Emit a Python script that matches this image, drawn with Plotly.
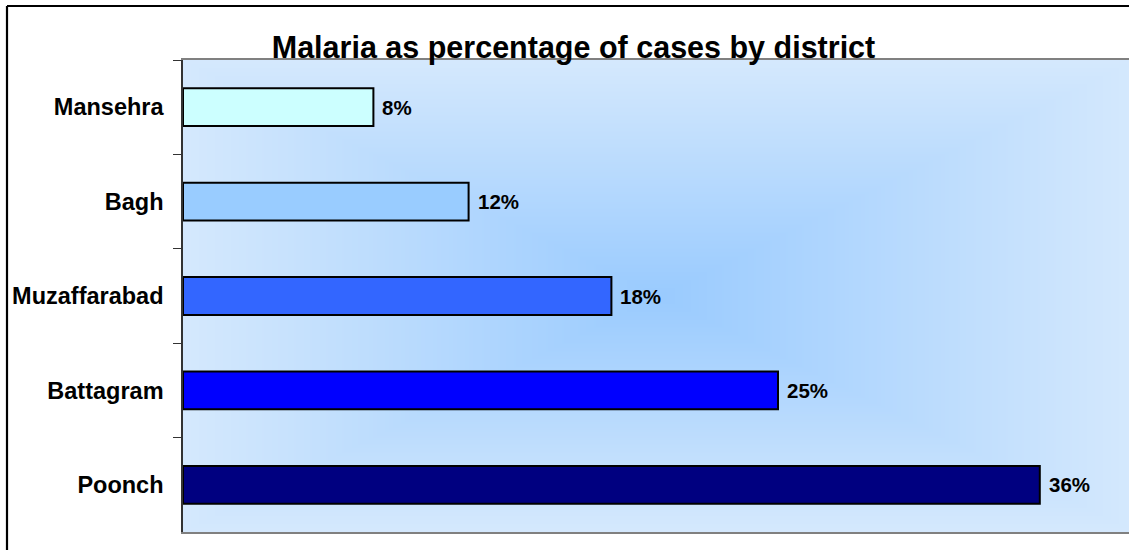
import base64
import struct
import zlib

import numpy as np
import plotly.graph_objects as go

# ---- data (top to bottom as shown) ----
districts = ["Mansehra", "Bagh", "Muzaffarabad", "Battagram", "Poonch"]
malaria_share = [0.08, 0.12, 0.18, 0.25, 0.36]
bar_colors = ["#CCFFFF", "#99CCFF", "#3366FF", "#0000FF", "#000080"]
title_text = "Malaria as percentage of cases by district"

# ---- geometry (pixels) ----
# the chart is wider than the 1129 px window; its right edge is cut off
W, H = 1160, 550
PL, PT, PB = 183, 60, 532
PR = 1160
pw, ph = PR - PL, PB - PT
GRAD_R = 1135  # right edge of the original (cropped) plot area, for the gradient


def px_x(px):
    return (px - PL) / pw


def px_y(py):
    return (PB - py) / ph


# ---- rectangular "from centre" gradient background as PNG ----
def make_png(arr):
    h, w, _ = arr.shape
    raw = b"".join(b"\x00" + arr[i].tobytes() for i in range(h))

    def chunk(t, d):
        return struct.pack(">I", len(d)) + t + d + struct.pack(">I", zlib.crc32(t + d) & 0xFFFFFFFF)

    return (b"\x89PNG\r\n\x1a\n"
            + chunk(b"IHDR", struct.pack(">IIBBBBB", w, h, 8, 2, 0, 0, 0))
            + chunk(b"IDAT", zlib.compress(raw, 9))
            + chunk(b"IEND", b""))


gw = GRAD_R - PL
gx = np.minimum(np.abs((np.arange(pw) + 0.5 - gw / 2) / (gw / 2)), 1.0)
gy = np.abs((np.arange(ph) + 0.5 - ph / 2) / (ph / 2))
t = np.maximum(gx[None, :], gy[:, None])
c_center = np.array([154, 203, 255], dtype=float)
c_edge = np.array([213, 233, 253], dtype=float)
img = c_center[None, None, :] + (c_edge - c_center)[None, None, :] * t[:, :, None]
img = np.clip(img, 0, 255).astype(np.uint8)
bg_uri = "data:image/png;base64," + base64.b64encode(make_png(img)).decode()

font_family = "Liberation Sans, Arial, sans-serif"

fig = go.Figure()
fig.add_trace(go.Bar(
    x=malaria_share,
    y=districts,
    orientation="h",
    width=0.4,
    marker=dict(color=bar_colors, line=dict(color="#000000", width=2)),
    hoverinfo="skip",
))

annotations = []
for d, v in zip(districts, malaria_share):
    annotations.append(dict(
        x=v, y=d, xref="x", yref="y",
        text=f"{round(v * 100)}%",
        showarrow=False, xanchor="left", yanchor="middle", xshift=7,
        font=dict(family=font_family, size=20.5, color="#000000", weight="bold"),
    ))

shapes = [
    # outer chart border (left and top visible)
    dict(type="line", xref="paper", yref="paper",
         x0=px_x(7), x1=px_x(1160), y0=px_y(6), y1=px_y(6),
         line=dict(color="#000000", width=2.2)),
    dict(type="line", xref="paper", yref="paper",
         x0=px_x(7), x1=px_x(7), y0=px_y(6), y1=px_y(560),
         line=dict(color="#000000", width=2.2)),
]

fig.update_layout(
    width=W, height=H,
    margin=dict(l=PL, r=W - PR, t=PT, b=H - PB, pad=0),
    paper_bgcolor="#FFFFFF",
    plot_bgcolor="#D5E9FD",
    showlegend=False,
    title=dict(
        text=title_text, xref="container", yref="container",
        x=573.5 / W, y=1 - 47 / H, xanchor="center", yanchor="middle",
        font=dict(family=font_family, size=30.5, color="#000000", weight="bold"),
    ),
    xaxis=dict(range=[0, pw / 2380], showgrid=False, zeroline=False,
               showticklabels=False, ticks="", showline=True,
               linecolor="#808080", linewidth=1.5, mirror=True, fixedrange=True),
    yaxis=dict(autorange="reversed", showgrid=False, zeroline=False,
               showline=True, linecolor="#333333", linewidth=1.5,
               ticks="outside", ticklen=8, tickwidth=1.2, tickcolor="#333333",
               tickson="boundaries", ticklabelstandoff=13,
               tickfont=dict(family=font_family, size=23.5, color="#000000", weight="bold"),
               fixedrange=True),
    images=[dict(source=bg_uri, xref="paper", yref="paper", x=0, y=1,
                 sizex=1, sizey=1, sizing="stretch", layer="below",
                 xanchor="left", yanchor="top")],
    annotations=annotations,
    shapes=shapes,
)

fig.write_html(
    "out.html",
    config={"displayModeBar": False},
    post_script="document.body.style.margin='0';document.body.style.overflow='hidden';",
)
